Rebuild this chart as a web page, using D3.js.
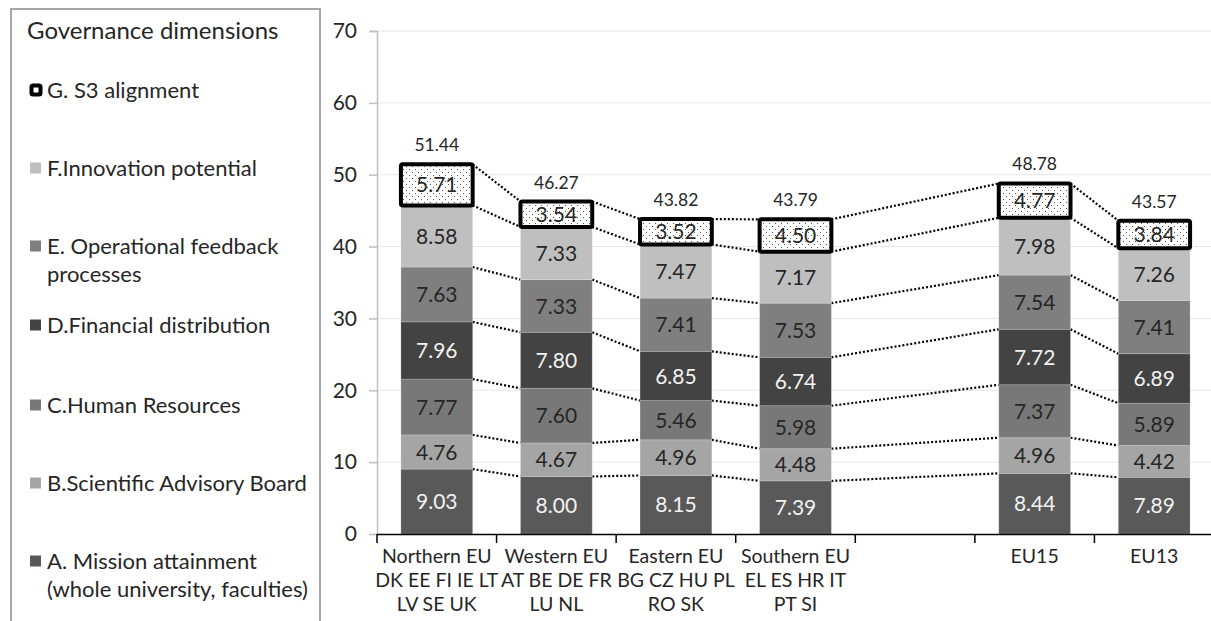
<!DOCTYPE html>
<html>
<head>
<meta charset="utf-8">
<script src="https://cdn.jsdelivr.net/npm/d3@7"></script>
<style>
  body { margin: 0; background: #fff; }
  svg { font-family: Lato, "Open Sans", sans-serif; }
</style>
</head>
<body>
<div id="chart"></div>
<script>
// data
var categories = ["north", "west", "east", "south", "gap", "eu15", "eu13"];
var catLabels = [
  ["Northern EU", "DK EE FI IE LT", "LV SE UK"],
  ["Western EU", "AT BE DE FR", "LU NL"],
  ["Eastern EU", "BG CZ HU PL", "RO SK"],
  ["Southern EU", "EL ES HR IT", "PT SI"],
  [],
  ["EU15"],
  ["EU13"]
];
var seriesA = [9.03, 8.00, 8.15, 7.39, null, 8.44, 7.89];
var seriesB = [4.76, 4.67, 4.96, 4.48, null, 4.96, 4.42];
var seriesC = [7.77, 7.60, 5.46, 5.98, null, 7.37, 5.89];
var seriesD = [7.96, 7.80, 6.85, 6.74, null, 7.72, 6.89];
var seriesE = [7.63, 7.33, 7.41, 7.53, null, 7.54, 7.41];
var seriesF = [8.58, 7.33, 7.47, 7.17, null, 7.98, 7.26];
var seriesG = [5.71, 3.54, 3.52, 4.50, null, 4.77, 3.84];
var totals  = [51.44, 46.27, 43.82, 43.79, null, 48.78, 43.57];
var yTicks = [0, 10, 20, 30, 40, 50, 60, 70];

var keys = ["A", "B", "C", "D", "E", "F", "G"];
var seriesValues = {A: seriesA, B: seriesB, C: seriesC, D: seriesD, E: seriesE, F: seriesF, G: seriesG};
var legendNames = {
  G: ["G. S3 alignment"],
  F: ["F.Innovation potential"],
  E: ["E. Operational feedback", "processes"],
  D: ["D.Financial distribution"],
  C: ["C.Human Resources"],
  B: ["B.Scientific Advisory Board"],
  A: ["A. Mission attainment", "(whole university, faculties)"]
};
var fills = {A: "#595959", B: "#a5a5a5", C: "#787878", D: "#434343", E: "#7f7f7f", F: "#bfbfbf", G: "url(#dots)"};
var textFill = {A: "#f2f2f2", B: "#262626", C: "#262626", D: "#f2f2f2", E: "#262626", F: "#262626", G: "#262626"};

var W = 1211, H = 621;
var svg = d3.select("#chart").append("svg")
    .attr("width", W)
    .attr("height", H);

// dotted pattern for G
var pat = svg.append("defs").append("pattern")
    .attr("id", "dots")
    .attr("patternUnits", "userSpaceOnUse")
    .attr("width", 6).attr("height", 6);
pat.append("rect").attr("width", 6).attr("height", 6).attr("fill", "#fff");
pat.append("rect").attr("x", 1).attr("y", 1).attr("width", 1).attr("height", 1).attr("fill", "#555");
pat.append("rect").attr("x", 4).attr("y", 4).attr("width", 1).attr("height", 1).attr("fill", "#555");

// scales
var x = d3.scaleBand()
    .domain(categories)
    .range([377, 1214])
    .paddingInner(0.4)
    .paddingOuter(0.2);
var y = d3.scaleLinear().domain([0, 70]).range([534, 31]);

// rows for the stack (skip the empty slot)
var rows = categories.map(function(c, i) {
  var r = {cat: c, i: i};
  keys.forEach(function(k) { r[k] = seriesValues[k][i]; });
  return r;
}).filter(function(r) { return r.A != null; });

var stacked = d3.stack().keys(keys)(rows);

// gridlines
svg.append("g").selectAll("line")
  .data(yTicks.slice(1))
  .enter().append("line")
    .attr("x1", 377).attr("x2", W)
    .attr("y1", function(d) { return y(d); })
    .attr("y2", function(d) { return y(d); })
    .attr("stroke", "#e6e6e6").attr("stroke-width", 1);

// y axis
var yAxis = svg.append("g")
    .attr("transform", "translate(377,0)")
    .call(d3.axisLeft(y).tickValues(yTicks).tickSize(8).tickPadding(12));
yAxis.select(".domain").attr("stroke", "#bfbfbf").attr("stroke-width", 1.5);
yAxis.selectAll(".tick line").attr("stroke", "#bfbfbf").attr("stroke-width", 1.5);
yAxis.selectAll(".tick text")
    .attr("font-size", 21).attr("fill", "#262626")
    .attr("font-family", "Lato, sans-serif");
yAxis.selectAll(".tick").filter(function(d) { return d === 0; }).select("line").remove();

// connecting dotted lines between neighbouring bars
var bw = x.bandwidth();
stacked.forEach(function(layer) {
  for (var j = 0; j < layer.length - 1; j++) {
    var a = layer[j], b = layer[j + 1];
    svg.append("line")
      .attr("x1", x(a.data.cat) + bw)
      .attr("y1", y(a[1]))
      .attr("x2", x(b.data.cat))
      .attr("y2", y(b[1]))
      .attr("stroke", "#000")
      .attr("stroke-width", 2.2)
      .attr("stroke-dasharray", "2,2");
  }
});

// bars
var layers = svg.append("g").selectAll("g")
  .data(stacked)
  .enter().append("g");

layers.selectAll("rect")
  .data(function(d) { return d.map(function(p) { p.key = d.key; return p; }); })
  .enter().append("rect")
    .attr("x", function(d) { return x(d.data.cat); })
    .attr("y", function(d) { return y(d[1]); })
    .attr("width", bw)
    .attr("height", function(d) { return y(d[0]) - y(d[1]); })
    .attr("fill", function(d) { return fills[d.key]; })
    .attr("stroke", function(d) { return d.key === "G" ? "#000" : "rgba(255,255,255,0.18)"; })
    .attr("stroke-width", function(d) { return d.key === "G" ? 4 : 1; })
    .attr("rx", function(d) { return d.key === "G" ? 2 : 0; });

layers.selectAll("text")
  .data(function(d) { return d; })
  .enter().append("text")
    .attr("x", function(d) { return x(d.data.cat) + bw / 2; })
    .attr("y", function(d) { return (y(d[0]) + y(d[1])) / 2; })
    .attr("dy", "0.36em")
    .attr("text-anchor", "middle")
    .attr("font-size", 21)
    .attr("fill", function(d) { return textFill[d.key]; })
    .text(function(d) { return (d[1] - d[0]).toFixed(2); });

// totals
svg.append("g").selectAll("text")
  .data(rows)
  .enter().append("text")
    .attr("x", function(d) { return x(d.cat) + bw / 2; })
    .attr("y", function(d) { return y(d3.sum(keys, function(k) { return d[k]; })) - 13; })
    .attr("text-anchor", "middle")
    .attr("font-size", 17.5)
    .attr("fill", "#262626")
    .text(function(d) { return totals[d.i].toFixed(2); });

// x axis
var step = x.step();
svg.append("line")
  .attr("x1", 377).attr("x2", W)
  .attr("y1", 534.5).attr("y2", 534.5)
  .attr("stroke", "#000").attr("stroke-width", 1.5);
svg.append("g").selectAll("line")
  .data(categories)
  .enter().append("line")
    .attr("x1", function(d) { return x(d) - x.paddingOuter() * step; })
    .attr("x2", function(d) { return x(d) - x.paddingOuter() * step; })
    .attr("y1", 534).attr("y2", 543)
    .attr("stroke", "#000").attr("stroke-width", 1.5);

var xl = svg.append("g").selectAll("text")
  .data(categories)
  .enter().append("text")
    .attr("x", function(d) { return x(d) + bw / 2; })
    .attr("y", 563)
    .attr("text-anchor", "middle")
    .attr("font-size", 19.5)
    .attr("fill", "#262626");
xl.selectAll("tspan")
  .data(function(d, i) { return catLabels[i]; })
  .enter().append("tspan")
    .attr("x", function() { return d3.select(this.parentNode).attr("x"); })
    .attr("dy", function(d, i) { return i === 0 ? 0 : 24; })
    .text(function(d) { return d; });

// legend
svg.append("rect")
  .attr("x", 11).attr("y", 9)
  .attr("width", 309).attr("height", 640)
  .attr("fill", "none")
  .attr("stroke", "#a6a6a6").attr("stroke-width", 2);
svg.append("text")
  .attr("x", 27).attr("y", 39)
  .attr("font-size", 24).attr("fill", "#262626")
  .text("Governance dimensions");

var legendKeys = ["G", "F", "E", "D", "C", "B", "A"];
var legendY = [90, 168, 246, 325, 405, 483, 561];
var lg = svg.append("g").selectAll("g")
  .data(legendKeys)
  .enter().append("g")
    .attr("transform", function(d, i) { return "translate(0," + legendY[i] + ")"; });
lg.append("rect")
  .attr("x", function(d) { return d === "G" ? 31.5 : 30; })
  .attr("y", function(d) { return d === "G" ? -4.5 : -5.5; })
  .attr("width", function(d) { return d === "G" ? 9 : 11; })
  .attr("height", function(d) { return d === "G" ? 9 : 11; })
  .attr("rx", function(d) { return d === "G" ? 1.5 : 0; })
  .attr("fill", function(d) { return d === "G" ? "#fff" : fills[d]; })
  .attr("stroke", function(d) { return d === "G" ? "#000" : "none"; })
  .attr("stroke-width", 4);
lg.append("text")
  .attr("x", 47).attr("y", 0)
  .attr("font-size", 22).attr("fill", "#262626")
  .selectAll("tspan")
  .data(function(d) { return legendNames[d]; })
  .enter().append("tspan")
    .attr("x", 47)
    .attr("dy", function(d, i) { return i === 0 ? "0.36em" : 28; })
    .text(function(d) { return d; });
</script>
</body>
</html>
